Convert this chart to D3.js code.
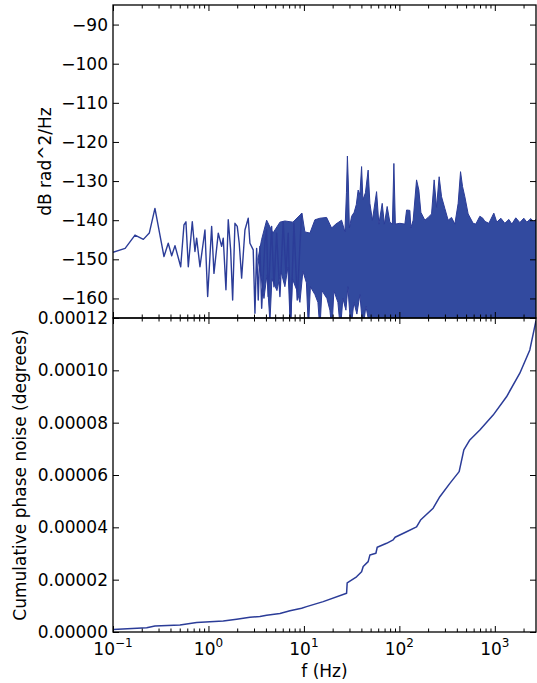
<!DOCTYPE html>
<html>
<head>
<meta charset="utf-8">
<script src="https://cdn.jsdelivr.net/npm/d3@7"></script>
<style>
  html, body { margin: 0; padding: 0; background: #fff; }
  svg { display: block; font-family: "DejaVu Sans", sans-serif; }
</style>
</head>
<body>
<svg id="chart" width="537" height="683"></svg>
<script>
// ---- data ----
// low-frequency PSD points, where single samples can still be seen (Hz, dB rad^2/Hz)
const lowFreq = [0.1, 0.134, 0.17, 0.208, 0.24, 0.275, 0.342, 0.379, 0.412, 0.446,
  0.512, 0.554, 0.581, 0.615, 0.677, 0.722, 0.752, 0.815, 0.919, 0.981,
  1.08, 1.142, 1.267, 1.374, 1.429, 1.525, 1.612, 1.708, 1.792, 1.895,
  2.003, 2.101, 2.226, 2.411, 2.611, 2.72, 2.944, 3.069, 3.197, 3.323,
  3.46, 3.61, 3.905, 4.065, 4.228, 4.59, 4.853, 5.176, 5.607, 6.068,
  6.478, 6.848, 7.256, 7.86, 8.51, 9.46];
const lowDb = [-148.2, -147.2, -143.8, -144.9, -143.3, -137.0, -149.3, -145.9, -149.1, -146.5,
  -151.9, -141.2, -140.4, -151.9, -140.4, -148.0, -144.6, -151.9, -142.5, -159.5,
  -141.6, -153.6, -143.3, -146.7, -144.6, -157.8, -139.9, -147.6, -160.4, -140.8,
  -141.6, -145.9, -154.8, -142.5, -139.5, -145.9, -147.6, -163.8, -147.2, -160.4,
  -146.7, -162.5, -145.5, -142.5, -159.5, -141.6, -157.0, -143.3, -159.5, -140.4,
  -153.6, -143.3, -167.0, -140.8, -160.4, -138.2];

// dense part: upper envelope of the trace
const bandTopFreq = [3.3, 3.6, 4.07, 4.74, 5.61, 6.32, 7.67, 9.53, 10.24, 11.56,
  13.04, 14.71, 17.29, 19.5, 21.6, 24.8, 26.9, 27.9, 28.55, 29.24,
  29.95, 31.6, 33.6, 35.4, 37.0, 38.6, 40.2, 41.5, 44.1, 47.1,
  49.1, 52.2, 57.7, 61.0, 66.1, 69.7, 74.5, 79.5, 84.5, 87.6,
  90.8, 101.2, 114.2, 119.0, 128.8, 131.9, 139.5, 151.4, 160, 168,
  184.9, 200.3, 217.4, 231.4, 245.2, 261.1, 276.7, 299.5, 324.3, 352.1,
  381.3, 412.8, 437.3, 458.9, 485.1, 525.4, 592.6, 632, 696.6, 749,
  786, 866, 976, 1049, 1156, 1273, 1402, 1507, 1659, 1828,
  2013, 2164, 2382, 2561, 2720];
const bandTopDb = [-150, -145, -140, -143.3, -140.5, -140.2, -140.5, -138.2, -143, -143.3,
  -139.9, -139.5, -139.3, -142, -141, -140, -143, -133, -123.6, -131,
  -142, -139, -138, -136, -132.3, -133.5, -126.3, -134.8, -133, -127.2,
  -135.7, -140, -132.7, -141, -135.7, -141, -136.5, -140.5, -141, -125.5,
  -141, -140.8, -141, -137.4, -137.5, -142, -140, -129.7, -132.3, -138,
  -140, -139.3, -138.4, -129.7, -136.7, -128.9, -134, -137, -140, -139.3,
  -141, -135.7, -127.6, -131.4, -134, -138.4, -140.8, -141, -139, -139.5,
  -140.3, -140.8, -138.2, -140.5, -139.5, -140.8, -139.8, -141, -139.4, -140.6,
  -139.5, -140.5, -139.6, -140.4, -139.7];

// dense part: lower envelope of the trace
const bandLowFreq = [3.3, 3.545, 3.813, 4.099, 4.406, 4.623, 5.216, 5.745, 6.32,
  6.80, 7.22, 7.58, 8.45, 9.08, 9.76, 10.62, 11.15, 11.69, 13.04,
  14.02, 14.71, 15.44, 17.41, 18.72, 19.65, 20.61, 22.70, 24.11, 25.61,
  27.54, 28.89, 31.05, 33.39, 35.89, 38.6, 41.5, 44.6, 47.9, 52.2, 2750];
const bandLowDb = [-150, -154, -160, -154, -166, -155, -158, -153, -157,
  -152, -168, -155, -158, -161, -153, -156, -168, -157, -159,
  -161, -168, -158, -160, -163, -168, -158, -161, -168, -160,
  -163, -157, -168, -161, -164, -159, -168, -162, -166, -175, -175];

// cumulative phase noise (Hz, degrees)
const cumFreq = [0.1, 0.2254, 0.275, 0.503, 0.752, 1.429, 1.974, 2.72, 3.46, 4.07,
  5.61, 7.14, 9.46, 10.67, 15.93, 28.0, 28.4, 35.6, 40.2, 41.8,
  47.1, 49.1, 56.8, 58.6, 73.5, 86.1, 90.2, 119.0, 151.4, 166.7,
  226, 265.5, 338, 423, 473.7, 547, 696.6, 960, 1326, 1828, 2326, 2700];
const cumDeg = [1.0e-6, 1.6e-6, 2.3e-6, 2.7e-6, 3.6e-6, 4.2e-6, 4.85e-6, 5.6e-6, 5.9e-6, 6.4e-6,
  7.1e-6, 8.1e-6, 9.1e-6, 9.7e-6, 1.16e-5, 1.48e-5, 1.88e-5, 2.11e-5, 2.30e-5, 2.50e-5,
  2.69e-5, 2.94e-5, 3.01e-5, 3.24e-5, 3.39e-5, 3.52e-5, 3.62e-5, 3.83e-5, 4.02e-5, 4.28e-5,
  4.73e-5, 5.17e-5, 5.68e-5, 6.13e-5, 6.96e-5, 7.34e-5, 7.72e-5, 8.29e-5, 8.99e-5, 9.89e-5,
  1.078e-4, 1.19e-4];

// ticks
const psdTicks = [-160, -150, -140, -130, -120, -110, -100, -90];
const cumTicks = [0, 0.00002, 0.00004, 0.00006, 0.00008, 0.00010, 0.00012];
const cumTickLabels = ["0.00000", "0.00002", "0.00004", "0.00006", "0.00008", "0.00010", "0.00012"];
const decadeTicks = [0.1, 1, 10, 100, 1000];
const decadeExp = ["\u22121", "0", "1", "2", "3"];

// ---- layout ----
const plotLeft = 113, plotRight = 536;
const topY0 = 5, midY = 318, botY1 = 632;
const lineColor = "#2b3c98";
const fillColor = "#324a9f";
const fontSize = 17;

const svg = d3.select("#chart");

const x = d3.scaleLog().domain([0.1, 2700]).range([plotLeft, plotRight]);
const yPsd = d3.scaleLinear().domain([-165, -85]).range([midY, topY0]);
const yCum = d3.scaleLinear().domain([0, 0.00012]).range([botY1, midY]);

const minorX = [];
decadeTicks.forEach(d => {
  for (let k = 2; k < 10; k++) if (d * k < 2700) minorX.push(d * k);
});

// clip paths
const defs = svg.append("defs");
defs.append("clipPath").attr("id", "clipTop").append("rect")
  .attr("x", plotLeft).attr("y", topY0).attr("width", plotRight - plotLeft).attr("height", midY - topY0);
defs.append("clipPath").attr("id", "clipBot").append("rect")
  .attr("x", plotLeft).attr("y", midY).attr("width", plotRight - plotLeft).attr("height", botY1 - midY);

// ---- top panel: PSD ----
const psdLine = d3.line().x(d => x(d[0])).y(d => yPsd(d[1]));

const topPts = bandTopFreq.map((f, i) => [f, bandTopDb[i]]);
const lowPts = bandLowFreq.map((f, i) => [f, bandLowDb[i]]).reverse();

const gTop = svg.append("g").attr("clip-path", "url(#clipTop)");
gTop.append("path")
  .attr("d", psdLine(topPts.concat(lowPts)) + "Z")
  .attr("fill", fillColor)
  .attr("stroke", lineColor)
  .attr("stroke-width", 1)
  .attr("stroke-linejoin", "miter");

gTop.append("path")
  .datum(lowFreq.map((f, i) => [f, lowDb[i]]))
  .attr("d", psdLine)
  .attr("fill", "none")
  .attr("stroke", lineColor)
  .attr("stroke-width", 1.4)
  .attr("stroke-linejoin", "round");

// ---- bottom panel: cumulative ----
const cumLine = d3.line().x(d => x(d[0])).y(d => yCum(d[1]));
svg.append("g").attr("clip-path", "url(#clipBot)")
  .append("path")
  .datum(cumFreq.map((f, i) => [f, cumDeg[i]]))
  .attr("d", cumLine)
  .attr("fill", "none")
  .attr("stroke", lineColor)
  .attr("stroke-width", 1.5)
  .attr("stroke-linejoin", "round");

// ---- axes ----
function styleAxis(g) {
  g.select(".domain").remove();
  g.attr("font-size", fontSize).attr("font-family", '"DejaVu Sans", sans-serif');
  g.selectAll(".tick line").attr("stroke", "#000").attr("stroke-width", 1);
  g.selectAll(".tick text").attr("fill", "#000");
}

function yAxes(scale, ticks, labels) {
  svg.append("g").attr("transform", `translate(${plotLeft},0)`)
    .call(d3.axisLeft(scale).tickValues(ticks).tickSizeInner(-6).tickSizeOuter(0).tickPadding(5)
      .tickFormat((d, i) => labels[i]))
    .call(styleAxis);
  svg.append("g").attr("transform", `translate(${plotRight},0)`)
    .call(d3.axisRight(scale).tickValues(ticks).tickSizeInner(-6).tickSizeOuter(0).tickFormat(""))
    .call(styleAxis);
}

yAxes(yPsd, psdTicks, psdTicks.map(d => String(d).replace("-", "\u2212")));
yAxes(yCum, cumTicks, cumTickLabels);

// x ticks on every horizontal edge, pointing inward
function xTicks(yPos, inwardDown) {
  const axisFn = inwardDown ? d3.axisTop : d3.axisBottom;
  svg.append("g").attr("transform", `translate(0,${yPos})`)
    .call(axisFn(x).tickValues(decadeTicks).tickSizeInner(-6).tickSizeOuter(0).tickFormat(""))
    .call(styleAxis);
  svg.append("g").attr("transform", `translate(0,${yPos})`)
    .call(axisFn(x).tickValues(minorX).tickSizeInner(-3.5).tickSizeOuter(0).tickFormat(""))
    .call(styleAxis);
}
xTicks(topY0, true);
xTicks(midY, false);
xTicks(midY, true);
xTicks(botY1, false);

// x tick labels 10^n
const xLab = svg.append("g").attr("font-size", fontSize).attr("fill", "#000");
decadeTicks.forEach((d, i) => {
  const t = xLab.append("text")
    .attr("x", x(d))
    .attr("y", 655)
    .attr("text-anchor", "middle");
  t.append("tspan").text("10");
  t.append("tspan").attr("dy", -8).attr("font-size", 12).text(decadeExp[i]);
});

// frames
[[topY0, midY], [midY, botY1]].forEach(([a, b]) => {
  svg.append("rect")
    .attr("x", plotLeft).attr("y", a)
    .attr("width", plotRight - plotLeft).attr("height", b - a)
    .attr("fill", "none").attr("stroke", "#000").attr("stroke-width", 1.3);
});

// axis titles
svg.append("text")
  .attr("transform", `translate(51,${(topY0 + midY) / 2}) rotate(-90)`)
  .attr("text-anchor", "middle")
  .attr("font-size", fontSize)
  .text("dB rad^2/Hz");

svg.append("text")
  .attr("transform", `translate(26,${(midY + botY1) / 2}) rotate(-90)`)
  .attr("text-anchor", "middle")
  .attr("font-size", fontSize)
  .text("Cumulative phase noise (degrees)");

svg.append("text")
  .attr("x", (plotLeft + plotRight) / 2)
  .attr("y", 677)
  .attr("text-anchor", "middle")
  .attr("font-size", fontSize)
  .text("f (Hz)");
</script>
</body>
</html>
